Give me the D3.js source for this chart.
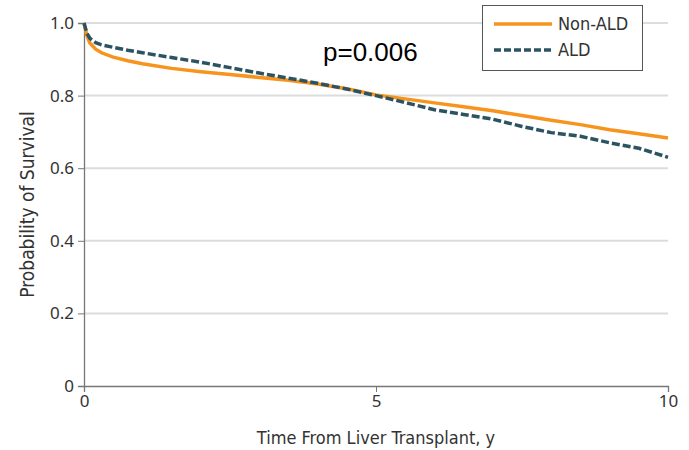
<!DOCTYPE html>
<html>
<head>
<meta charset="utf-8">
<script src="https://cdn.jsdelivr.net/npm/d3@7"></script>
<style>
  body { margin: 0; background: #fff; }
  .tick text { font-family: "Noto Sans", "Open Sans", sans-serif; font-size: 17px; fill: #333; }
</style>
</head>
<body>
<script>
// survival values
const times = [0, 0.05, 0.1, 0.2, 0.3, 0.5, 0.75, 1, 1.5, 2, 2.5, 3, 3.5, 4, 4.5, 5, 5.5, 6, 6.5, 7, 7.5, 8, 8.5, 9, 9.5, 10];
const nonAld = [1.0, 0.965, 0.945, 0.928, 0.918, 0.906, 0.896, 0.888, 0.875, 0.866, 0.858, 0.850, 0.842, 0.832, 0.819, 0.802, 0.791, 0.780, 0.769, 0.758, 0.745, 0.732, 0.720, 0.706, 0.695, 0.683];
const ald = [1.0, 0.972, 0.958, 0.946, 0.940, 0.933, 0.925, 0.918, 0.905, 0.892, 0.877, 0.862, 0.848, 0.834, 0.818, 0.800, 0.781, 0.761, 0.748, 0.735, 0.715, 0.698, 0.688, 0.670, 0.655, 0.630];
const xTicks = [0, 5, 10];
const yTicks = [0, 0.2, 0.4, 0.6, 0.8, 1.0];
const seriesNames = ["Non-ALD", "ALD"];

const width = 689, height = 450;
const margin = {left: 84, right: 21, top: 23, bottom: 64};
const labelFont = "\"Liberation Sans Narrow\", \"DejaVu Sans Condensed\", sans-serif";

const svg = d3.select("body").append("svg")
    .attr("width", width)
    .attr("height", height);

const x = d3.scaleLinear().domain([0, 10]).range([margin.left, width - margin.right]);
const y = d3.scaleLinear().domain([0, 1]).range([height - margin.bottom, margin.top]);

// gridlines
svg.append("g")
    .selectAll("line")
    .data(yTicks.filter(d => d > 0))
    .join("line")
    .attr("x1", x(0)).attr("x2", x(10))
    .attr("y1", d => y(d)).attr("y2", d => y(d))
    .attr("stroke", "#dcdcdc")
    .attr("stroke-width", 2);

const yAxis = svg.append("g")
    .attr("transform", "translate(" + margin.left + ",0)")
    .call(d3.axisLeft(y).tickValues(yTicks).tickSize(6).tickPadding(4)
        .tickFormat(d => d === 0 ? "0" : d3.format(".1f")(d)));

const xAxis = svg.append("g")
    .attr("transform", "translate(0," + y(0) + ")")
    .call(d3.axisBottom(x).tickValues(xTicks).tickSize(6).tickPadding(3));

[xAxis, yAxis].forEach(a => {
    a.select(".domain").attr("stroke", "#777").attr("stroke-width", 1.3);
    a.selectAll(".tick line").attr("stroke", "#777");
});

svg.append("text")
    .attr("x", x(5))
    .attr("y", 444)
    .attr("text-anchor", "middle")
    .style("font-family", labelFont)
    .style("font-size", "18px")
    .attr("fill", "#333")
    .text("Time From Liver Transplant, y");

svg.append("text")
    .attr("transform", "translate(34," + y(0.5) + ") rotate(-90)")
    .attr("text-anchor", "middle")
    .style("font-family", labelFont)
    .style("font-size", "19px")
    .attr("fill", "#333")
    .text("Probability of Survival");

const line = d3.line()
    .x(d => x(d[0]))
    .y(d => y(d[1]));

svg.append("path")
    .datum(times.map((t, i) => [t, nonAld[i]]))
    .attr("d", line)
    .attr("fill", "none")
    .attr("stroke", "#f7941d")
    .attr("stroke-width", 3.5);

svg.append("path")
    .datum(times.map((t, i) => [t, ald[i]]))
    .attr("d", line)
    .attr("fill", "none")
    .attr("stroke", "#2c5361")
    .attr("stroke-width", 3.5)
    .attr("stroke-dasharray", "8,3");

svg.append("text")
    .attr("x", 323)
    .attr("y", 61)
    .style("font-family", "Arial, \"Liberation Sans\", sans-serif")
    .style("font-size", "26px")
    .attr("fill", "#000")
    .text("p=0.006");

// legend
const legend = svg.append("g");
legend.append("rect")
    .attr("x", 482.5).attr("y", 5.5)
    .attr("width", 160).attr("height", 65)
    .attr("fill", "#fff")
    .attr("stroke", "#555");

const legColors = ["#f7941d", "#2c5361"];
const legDash = [null, "7,3"];
seriesNames.forEach((name, i) => {
    const ly = 24 + i * 26;
    legend.append("line")
        .attr("x1", 494).attr("x2", 552)
        .attr("y1", ly).attr("y2", ly)
        .attr("stroke", legColors[i])
        .attr("stroke-width", 3.5)
        .attr("stroke-dasharray", legDash[i]);
    legend.append("text")
        .attr("x", 558).attr("y", ly + 6)
        .style("font-family", labelFont)
        .style("font-size", "18px")
        .attr("fill", "#333")
        .text(name);
});
</script>
</body>
</html>
